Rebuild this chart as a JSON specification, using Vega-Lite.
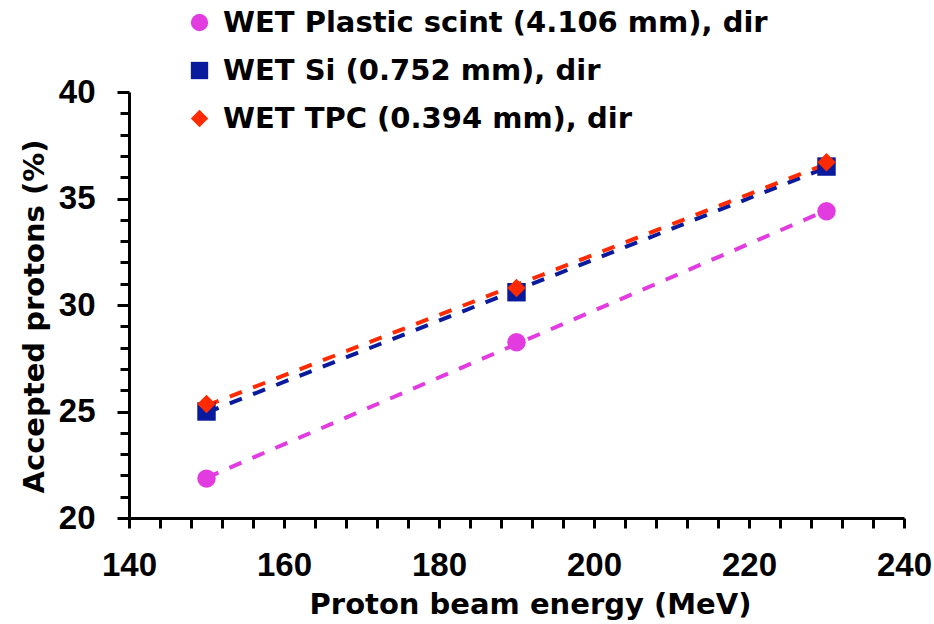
{
  "$schema": "https://vega.github.io/schema/vega-lite/v6.json",
  "width": 775,
  "height": 426,
  "autosize": {"type": "none"},
  "padding": {"left": 129, "top": 92, "right": 30, "bottom": 106},
  "background": "white",
  "config": {"view": {"stroke": null}},
  "data": {
    "values": [
      {"series": "WET Plastic scint (4.106 mm), dir", "energy": 150, "accepted": 21.85},
      {"series": "WET Plastic scint (4.106 mm), dir", "energy": 190, "accepted": 28.25},
      {"series": "WET Plastic scint (4.106 mm), dir", "energy": 230, "accepted": 34.4},
      {"series": "WET Si (0.752 mm), dir", "energy": 150, "accepted": 25.0},
      {"series": "WET Si (0.752 mm), dir", "energy": 190, "accepted": 30.6},
      {"series": "WET Si (0.752 mm), dir", "energy": 230, "accepted": 36.5},
      {"series": "WET TPC (0.394 mm), dir", "energy": 150, "accepted": 25.35},
      {"series": "WET TPC (0.394 mm), dir", "energy": 190, "accepted": 30.8},
      {"series": "WET TPC (0.394 mm), dir", "energy": 230, "accepted": 36.7}
    ]
  },
  "encoding": {
    "x": {
      "field": "energy", "type": "quantitative",
      "scale": {"domain": [140, 240], "nice": false, "zero": false},
      "axis": {
        "title": "Proton beam energy (MeV)",
        "values": [140,144,148,152,156,160,164,168,172,176,180,184,188,192,196,200,204,208,212,216,220,224,228,232,236,240],
        "labelExpr": "datum.value % 20 === 0 ? datum.label : ''",
        "grid": false,
        "domainColor": "black", "domainWidth": 3,
        "tickColor": "black", "tickWidth": 3, "tickSize": 10,
        "labelFont": "Liberation Sans", "labelFontWeight": "bold", "labelFontSize": 33, "labelColor": "black",
        "labelPadding": 21, "labelFlush": false, "labelOverlap": false,
        "titleFont": "DejaVu Sans", "titleFontWeight": "bold", "titleFontSize": 29, "titleColor": "black",
        "titleX": 401, "titleY": 95, "titleBaseline": "alphabetic", "titleAlign": "center"
      }
    },
    "y": {
      "field": "accepted", "type": "quantitative",
      "scale": {"domain": [20, 40], "nice": false, "zero": false},
      "axis": {
        "title": "Accepted protons (%)",
        "values": [20,21,22,23,24,25,26,27,28,29,30,31,32,33,34,35,36,37,38,39,40],
        "labelExpr": "datum.value % 5 === 0 ? datum.label : ''",
        "grid": false,
        "domainColor": "black", "domainWidth": 3,
        "tickColor": "black", "tickWidth": 3,
        "tickSize": {"condition": {"test": "datum.value % 5 === 0", "value": 12}, "value": 9},
        "labelFont": "Liberation Sans", "labelFontWeight": "bold", "labelFontSize": 33, "labelColor": "black",
        "labelPadding": 22, "labelOverlap": false, "labelFlush": false,
        "titleFont": "DejaVu Sans", "titleFontWeight": "bold", "titleFontSize": 29, "titleColor": "black",
        "titleAngle": -90, "titleX": -86, "titleY": 224, "titleBaseline": "alphabetic", "titleAlign": "center"
      }
    },
    "color": {
      "field": "series", "type": "nominal",
      "scale": {
        "domain": ["WET Plastic scint (4.106 mm), dir", "WET Si (0.752 mm), dir", "WET TPC (0.394 mm), dir"],
        "range": ["#E23CE0", "#0A1A9C", "#FF2A00"]
      },
      "legend": {
        "title": null, "orient": "none", "legendX": 56, "legendY": -84,
        "symbolSize": 300, "symbolOpacity": 1, "symbolStrokeWidth": 0, "symbolType": "circle",
        "labelFont": "DejaVu Sans", "labelFontWeight": "bold", "labelFontSize": 29, "labelColor": "black",
        "labelOffset": 9, "rowPadding": 18, "padding": 0, "labelLimit": 800
      }
    }
  },
  "layer": [
    {
      "transform": [{"regression": "accepted", "on": "energy", "groupby": ["series"]}],
      "mark": {"type": "line", "strokeDash": [13, 12], "strokeWidth": 4}
    },
    {
      "mark": {"type": "point", "filled": true, "opacity": 1, "size": 340},
      "encoding": {
        "shape": {
          "field": "series", "type": "nominal",
          "scale": {
            "domain": ["WET Plastic scint (4.106 mm), dir", "WET Si (0.752 mm), dir", "WET TPC (0.394 mm), dir"],
            "range": ["circle", "square", "diamond"]
          },
          "legend": {
            "title": null, "orient": "none", "legendX": 56, "legendY": -84,
            "symbolSize": 300, "symbolOpacity": 1, "symbolStrokeWidth": 0,
            "labelFont": "DejaVu Sans", "labelFontWeight": "bold", "labelFontSize": 29, "labelColor": "black",
            "labelOffset": 9, "rowPadding": 18, "padding": 0, "labelLimit": 800
          }
        }
      }
    }
  ]
}
